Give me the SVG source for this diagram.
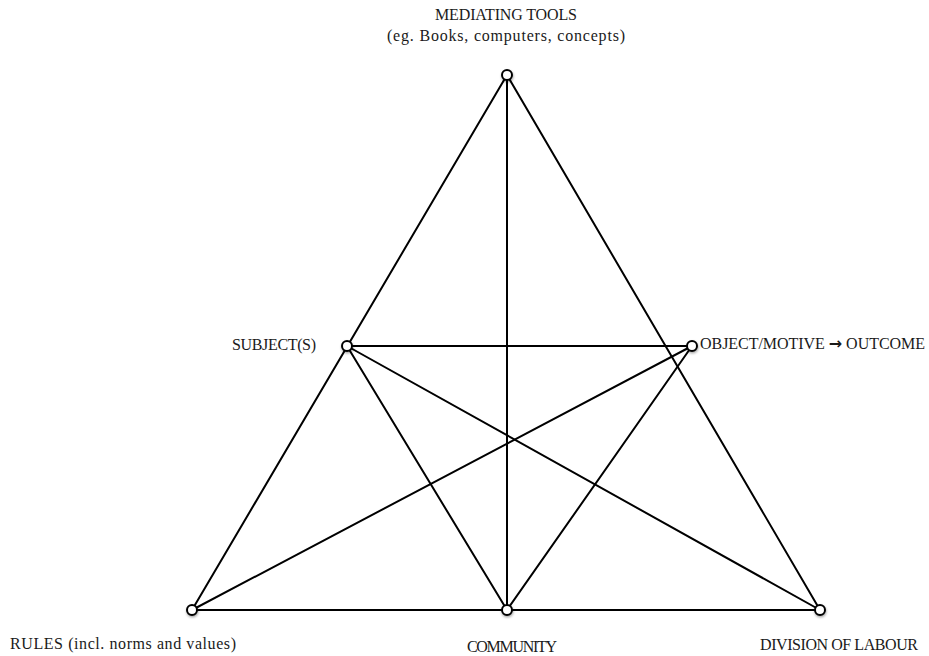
<svg xmlns="http://www.w3.org/2000/svg" width="929" height="656" viewBox="0 0 929 656">
<defs>
<filter id="sh" x="-50%" y="-50%" width="200%" height="200%">
<feDropShadow dx="0.5" dy="1.5" stdDeviation="1" flood-color="#000" flood-opacity="0.35"/>
</filter>
</defs>
<style>
.ln{stroke:#000;stroke-width:2;fill:none;stroke-linecap:round}
.nd{fill:#fff;stroke:#000;stroke-width:2;filter:url(#sh)}
.lb{font-family:"Liberation Serif","DejaVu Serif",serif;font-size:16px;fill:#1a1a1a}
.ar{font-family:"DejaVu Sans",sans-serif;font-weight:bold}
</style>
<rect width="929" height="656" fill="#fff"/>
<g id="connectors">
<line class="ln" x1="507" y1="75" x2="192" y2="610"/>
<line class="ln" x1="507" y1="75" x2="820" y2="610"/>
<line class="ln" x1="192" y1="610" x2="820" y2="610"/>
<line class="ln" x1="507" y1="75" x2="507" y2="610"/>
<line class="ln" x1="347" y1="346" x2="692" y2="346"/>
<line class="ln" x1="347" y1="346" x2="507" y2="610"/>
<line class="ln" x1="347" y1="346" x2="820" y2="610"/>
<line class="ln" x1="692" y1="346" x2="192" y2="610"/>
<line class="ln" x1="692" y1="346" x2="507" y2="610"/>
</g>
<g id="mediating-tools">
<circle class="nd" cx="507" cy="75" r="5"/>
<text class="lb" x="506" y="20" text-anchor="middle" textLength="142">MEDIATING TOOLS</text>
<text class="lb" x="506" y="41" text-anchor="middle" textLength="238">(eg. Books, computers, concepts)</text>
</g>
<g id="subject">
<circle class="nd" cx="347" cy="346" r="5"/>
<text class="lb" x="232" y="350" textLength="84">SUBJECT(S)</text>
</g>
<g id="object">
<circle class="nd" cx="692" cy="346" r="5"/>
<text class="lb" x="700" y="349" textLength="225">OBJECT/MOTIVE <tspan class="ar">→</tspan> OUTCOME</text>
</g>
<g id="rules">
<circle class="nd" cx="192" cy="610" r="5"/>
<text class="lb" x="10" y="649" textLength="226">RULES (incl. norms and values)</text>
</g>
<g id="community">
<circle class="nd" cx="507" cy="610" r="5"/>
<text class="lb" x="512" y="652" text-anchor="middle" textLength="90">COMMUNITY</text>
</g>
<g id="division">
<circle class="nd" cx="820" cy="610" r="5"/>
<text class="lb" x="760" y="650" textLength="158">DIVISION OF LABOUR</text>
</g>
</svg>
